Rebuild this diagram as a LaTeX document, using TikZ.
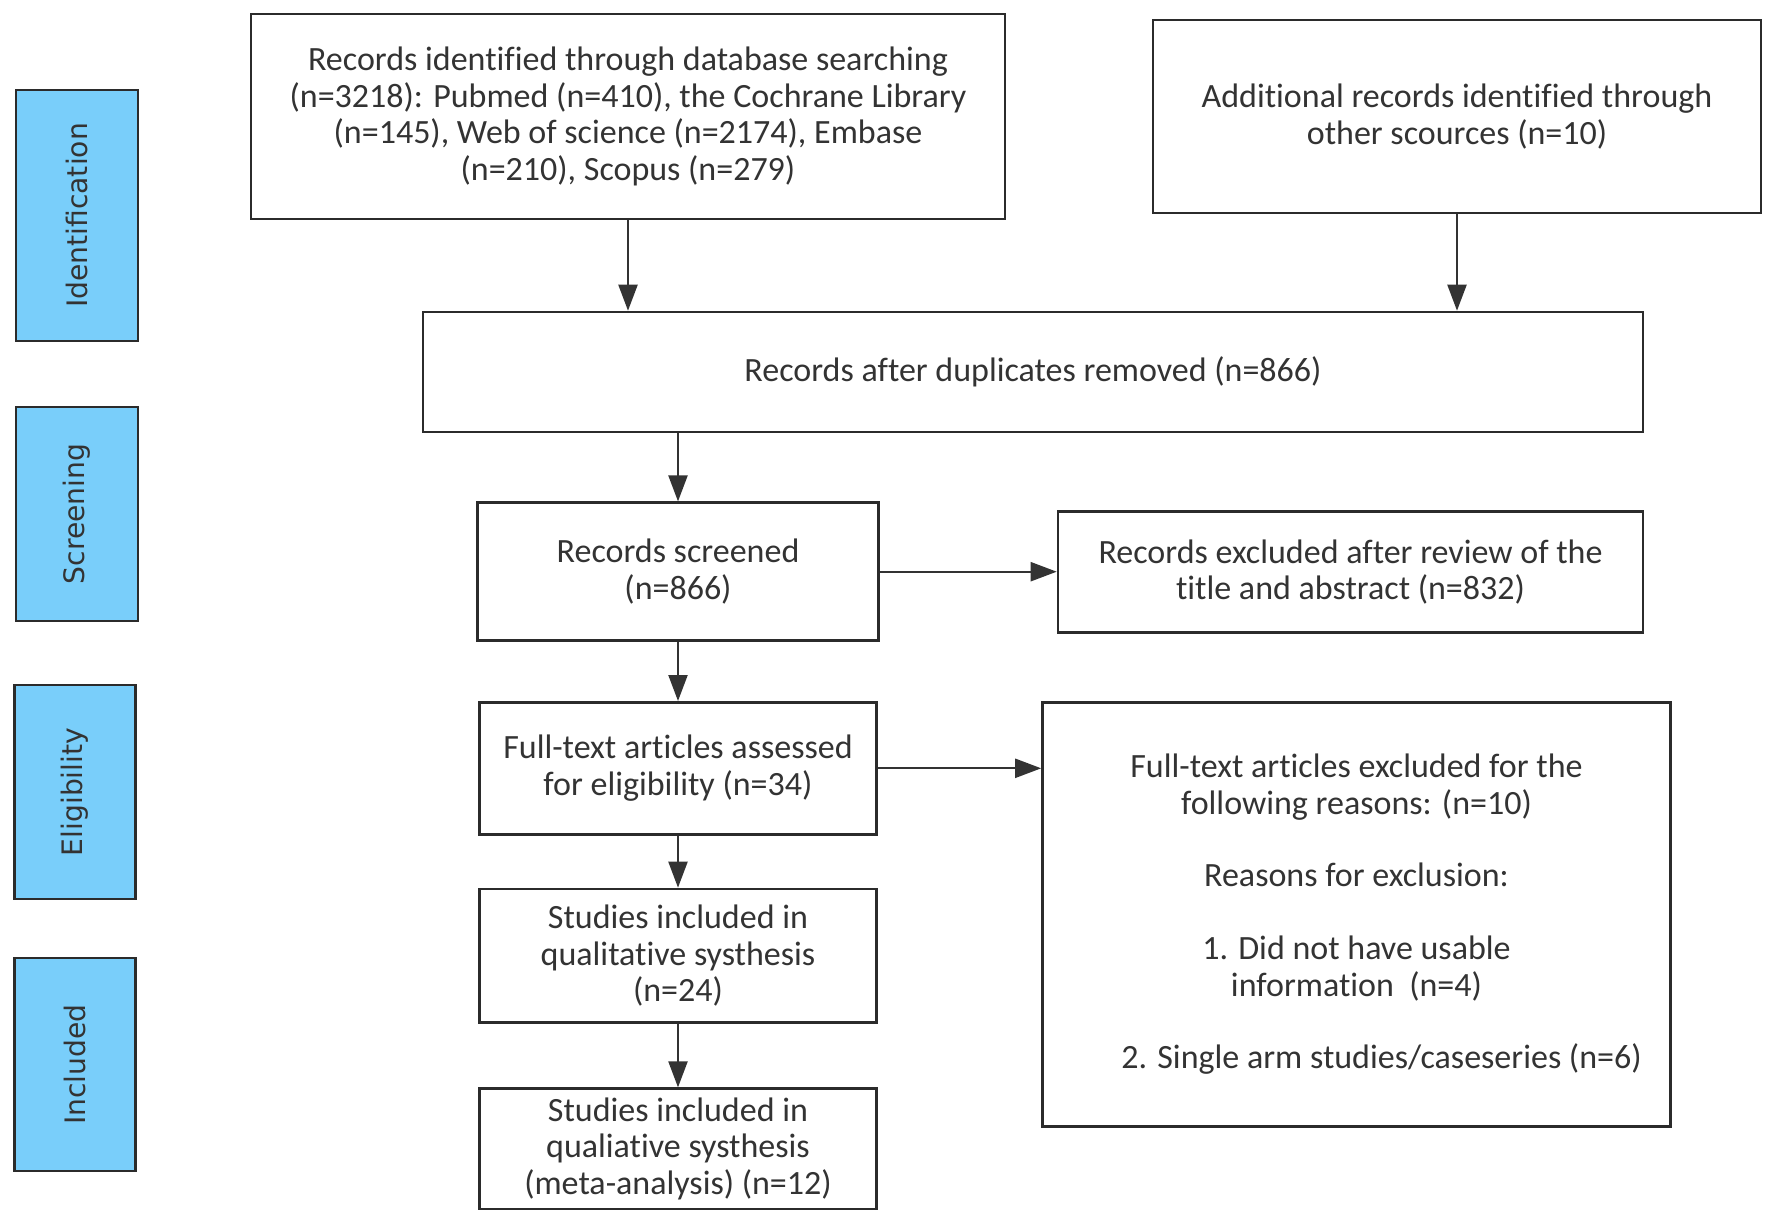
\documentclass[tikz,border=0pt]{standalone}
\usepackage{fontspec}
\setmainfont{Carlito}[Ligatures=NoCommon]
\newfontfamily\labelfont{DejaVu Sans}
\usetikzlibrary{arrows.meta}
\definecolor{ink}{HTML}{333333}
\definecolor{frame}{HTML}{2B2B2B}
\definecolor{phase}{RGB}{121,206,250}
\begin{document}
\begin{tikzpicture}[x=0.5pt,y=-0.5pt,
  box/.style={draw=frame, line width=1.3pt, align=center, inner sep=0pt, text=ink,
    font=\fontsize{17pt}{18.2pt}\selectfont},
  phasebox/.style={draw=frame, line width=1.3pt, fill=phase, rotate=90, inner sep=0pt,
    text=ink, font=\labelfont\fontsize{14.1pt}{16pt}\selectfont},
  arr/.style={draw=ink, line width=1.1pt, -{Triangle[length=13pt,width=9.5pt]}}]
\path[fill=white, use as bounding box] (0,0) rectangle (1772,1225);

% phase labels
\node[phasebox, minimum width=125.5pt, minimum height=61pt] (pid) at (77,215.5) {Identification};
\node[phasebox, minimum width=107pt, minimum height=61pt] (psc) at (77,514) {Screening};
\node[phasebox, minimum width=107pt, minimum height=60.5pt] (pel) at (75,792) {Eligibility};
\node[phasebox, minimum width=106.5pt, minimum height=60.5pt] (pin) at (75,1064.5) {Included};

% boxes
\node[box, minimum width=377pt, minimum height=102.5pt] (A) at (628,116.5)
  {Records identified through database searching\\(n=3218): Pubmed (n=410), the Cochrane Library\\(n=145), Web of science (n=2174), Embase\\(n=210), Scopus (n=279)};
\node[box, minimum width=304pt, minimum height=96.5pt] (B) at (1457,116.5)
  {Additional records identified through\\other scources (n=10)};
\node[box, minimum width=610pt, minimum height=60pt] (C) at (1033,372)
  {Records after duplicates removed (n=866)};
\node[box, minimum width=200.5pt, minimum height=69pt] (D) at (678,571.7)
  {Records screened\\(n=866)};
\node[box, minimum width=292.5pt, minimum height=60.3pt] (E) at (1350.5,572)
  {Records excluded after review of the\\title and abstract (n=832)};
\node[box, minimum width=314pt, minimum height=212.2pt] (G) at (1356.5,914.5)
  {Full-text articles excluded for the\\following reasons: (n=10)\\[18.2pt]Reasons for exclusion:\\[18.2pt]1. Did not have usable\\information\ \ (n=4)\\[18.2pt]\hspace*{25pt}2. Single arm studies/caseseries (n=6)};
\node[box, minimum width=198.5pt, minimum height=66pt] (F) at (678,768.3)
  {Full-text articles assessed\\for eligibility (n=34)};
\node[box, minimum width=198.5pt, minimum height=66.85pt] (H) at (678,955.8)
  {Studies included in\\qualitative systhesis\\(n=24)};
\node[box, minimum width=198.5pt, minimum height=60.15pt] (I) at (678,1148.8)
  {Studies included in\\qualiative systhesis\\(meta-analysis) (n=12)};

% connectors
\draw[arr] (A.south) -- (A.south |- C.north);
\draw[arr] (B.south) -- (B.south |- C.north);
\draw[arr] (C.south -| D.north) -- (D.north);
\draw[arr] (D.east) -- (D.east -| E.west);
\draw[arr] (D.south) -- (F.north);
\draw[arr] (F.east) -- (F.east -| G.west);
\draw[arr] (F.south) -- (H.north);
\draw[arr] (H.south) -- (I.north);
\end{tikzpicture}
\end{document}
